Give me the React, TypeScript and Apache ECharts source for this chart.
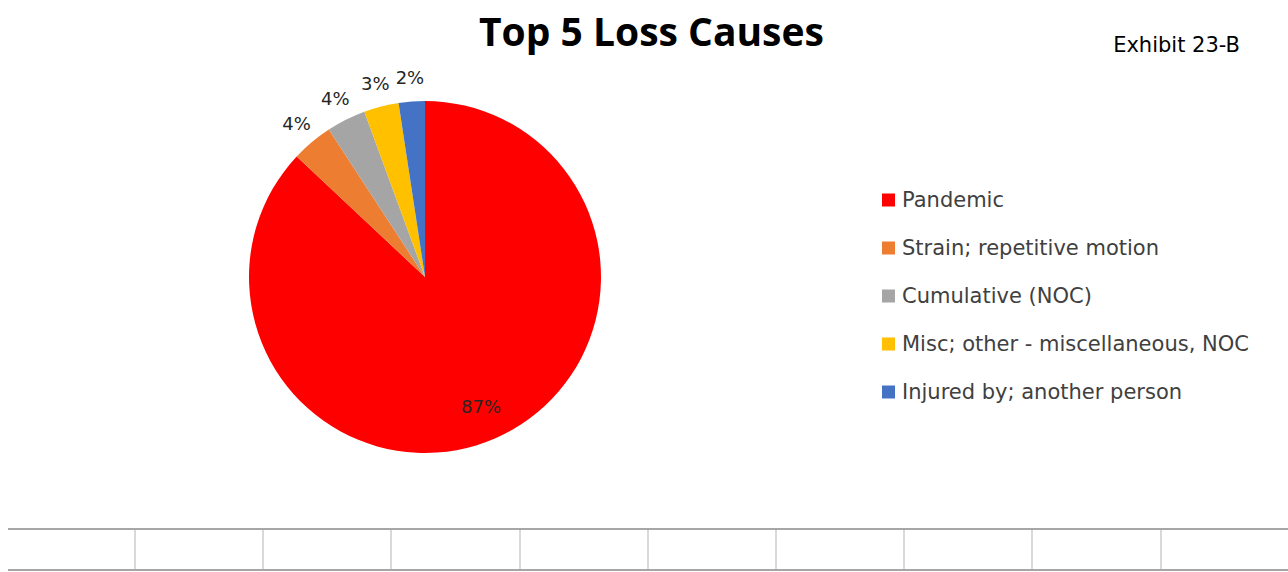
import React, { useEffect, useRef } from "react";
import * as echarts from "echarts";

const categories = [
  "Pandemic",
  "Strain; repetitive motion",
  "Cumulative (NOC)",
  "Misc; other - miscellaneous, NOC",
  "Injured by; another person",
];
const shares = [87.0, 3.8, 3.6, 3.2, 2.4];
const sliceColors = ["#FF0000", "#ED7D31", "#A5A5A5", "#FFC000", "#4472C4"];
const titleText = "Top 5 Loss Causes";
const exhibitText = "Exhibit 23-B";

export default function App() {
  const ref = useRef<HTMLDivElement>(null);

  useEffect(() => {
    document.body.style.margin = "0";
    document.body.style.overflow = "hidden";
    if (!ref.current) return;
    const chart = echarts.init(ref.current, null, { renderer: "svg" });

    const center = [425, 277];
    const R = 176;
    const labelFont = {
      fontFamily: "DejaVu Sans",
      fontSize: 18,
      color: "#262626",
    };

    const mainData = categories.map((name, i) => ({
      name,
      value: shares[i],
      itemStyle: { color: sliceColors[i] },
    }));

    const innerLabelData = categories.map((name, i) => ({
      name,
      value: shares[i],
      label: { show: i === 0 },
    }));
    const outerLabelData = categories.map((name, i) => ({
      name,
      value: shares[i],
      label: { show: i !== 0 },
    }));

    const graphics: any[] = [];
    graphics.push({
      type: "line",
      shape: { x1: 8, y1: 529, x2: 1288, y2: 529 },
      style: { stroke: "#a6a6a6", lineWidth: 2 },
      silent: true,
    });
    graphics.push({
      type: "line",
      shape: { x1: 8, y1: 570, x2: 1288, y2: 570 },
      style: { stroke: "#a6a6a6", lineWidth: 2 },
      silent: true,
    });
    for (let i = 0; i < 9; i++) {
      const x = Math.round(135 + i * 128.2);
      graphics.push({
        type: "line",
        shape: { x1: x, y1: 530, x2: x, y2: 569 },
        style: { stroke: "#d9d9d9", lineWidth: 2 },
        silent: true,
      });
    }

    chart.setOption({
      animation: false,
      backgroundColor: "#ffffff",
      title: [
        {
          text: titleText,
          left: 474,
          top: 6,
          textStyle: {
            fontFamily: "Open Sans",
            fontWeight: "bold",
            fontSize: 39,
            color: "#000000",
          },
        },
        {
          text: exhibitText,
          right: 43,
          top: 29,
          textStyle: {
            fontFamily: "DejaVu Sans",
            fontWeight: "normal",
            fontSize: 21,
            color: "#000000",
          },
        },
      ],
      legend: {
        orient: "vertical",
        left: 882,
        top: 189,
        padding: 0,
        icon: "rect",
        itemWidth: 13,
        itemHeight: 13,
        itemGap: 26,
        data: categories,
        selectedMode: false,
        textStyle: {
          fontFamily: "DejaVu Sans",
          fontSize: 21,
          color: "#404040",
          lineHeight: 22,
          padding: [0, 0, 0, 2],
        },
      },
      graphic: graphics,
      series: [
        {
          type: "pie",
          center,
          radius: R,
          startAngle: 90,
          clockwise: true,
          data: mainData,
          label: { show: false },
          labelLine: { show: false },
          itemStyle: { borderWidth: 0 },
          emphasis: { disabled: true },
          silent: true,
        },
        {
          type: "pie",
          center,
          radius: [100, 176],
          startAngle: 90,
          clockwise: true,
          data: innerLabelData,
          itemStyle: { color: "rgba(0,0,0,0)", borderWidth: 0 },
          label: {
            position: "inside",
            formatter: (p: any) => Math.round(p.percent) + "%",
            ...labelFont,
          },
          labelLine: { show: false },
          emphasis: { disabled: true },
          silent: true,
          legendHoverLink: false,
        },
        {
          type: "pie",
          center,
          radius: [182, 212],
          startAngle: 90,
          clockwise: true,
          data: outerLabelData,
          itemStyle: { color: "rgba(0,0,0,0)", borderWidth: 0 },
          label: {
            position: "inside",
            formatter: (p: any) => Math.round(p.percent) + "%",
            ...labelFont,
          },
          labelLine: { show: false },
          emphasis: { disabled: true },
          silent: true,
          legendHoverLink: false,
        },
      ],
    });

    return () => chart.dispose();
  }, []);

  return <div ref={ref} style={{ width: 1288, height: 572 }} />;
}
